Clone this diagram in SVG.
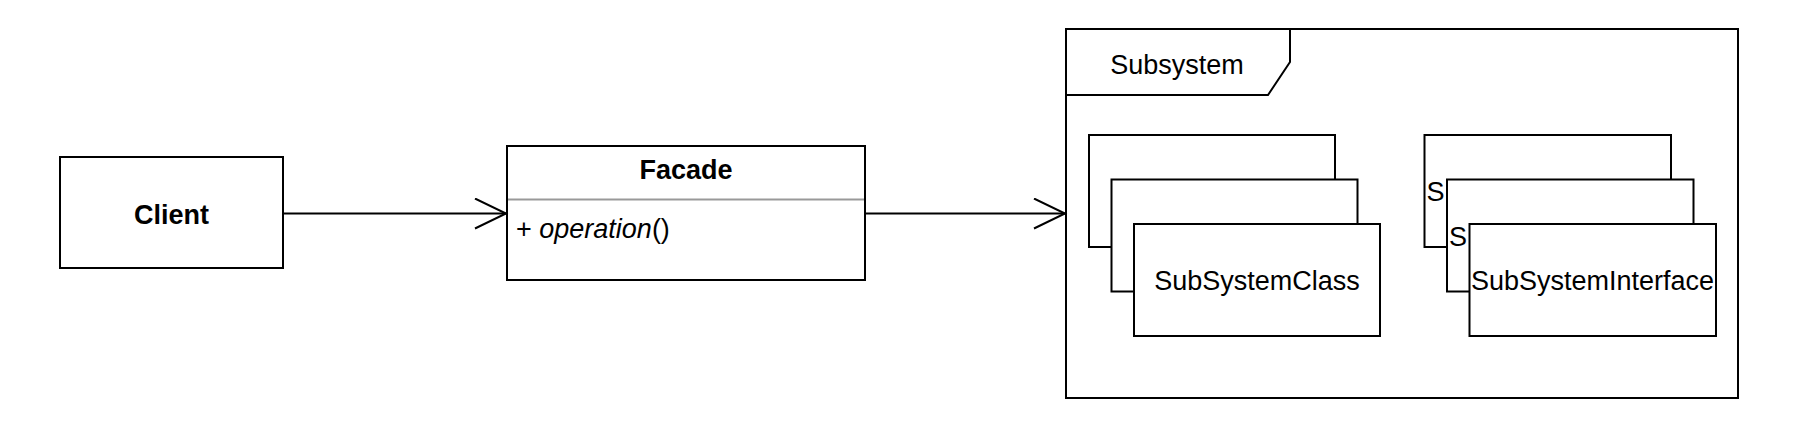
<svg xmlns="http://www.w3.org/2000/svg" width="1810" height="437" viewBox="0 0 1810 437">
  <defs>
    <style>
      .box { fill: #ffffff; stroke: #000000; stroke-width: 2; }
      .txt { font-family: "Liberation Sans", Arial, Helvetica, sans-serif; font-size: 27px; fill: #000000; }
      .bold { font-weight: bold; }
      .conn { fill: none; stroke: #000000; stroke-width: 2; }
    </style>
    <marker id="openArrow" markerUnits="userSpaceOnUse" markerWidth="40" markerHeight="40" refX="32" refY="16" orient="auto">
      <path d="M1,1 L32,16 L1,31" fill="none" stroke="#000000" stroke-width="2"/>
    </marker>
  </defs>
  <rect width="1810" height="437" fill="#ffffff"/>

  <g id="client">
    <rect class="box" x="60" y="157" width="223" height="111"/>
    <text class="txt bold" x="171.5" y="223.5" text-anchor="middle">Client</text>
  </g>

  <g id="facade">
    <rect class="box" x="507" y="146" width="358" height="134"/>
    <line x1="508" y1="199.5" x2="864" y2="199.5" stroke="#999999" stroke-width="2"/>
    <text class="txt bold" x="686" y="179" text-anchor="middle">Facade</text>
    <text class="txt" x="516" y="238">+ <tspan font-style="italic">operation</tspan>()</text>
  </g>

  <g id="subsystem">
    <rect class="box" x="1066" y="29" width="672" height="369"/>
    <path class="conn" d="M1066,95 L1268,95 L1290,62 L1290,29"/>
    <text class="txt" x="1177" y="74" text-anchor="middle">Subsystem</text>
  </g>

  <g id="subsystemclass">
    <rect class="box" x="1089" y="135" width="246" height="112"/>
    <rect class="box" x="1111.5" y="179.5" width="246" height="112"/>
    <rect class="box" x="1134" y="224" width="246" height="112"/>
    <text class="txt" x="1257" y="290" text-anchor="middle">SubSystemClass</text>
  </g>

  <g id="subsysteminterface">
    <rect class="box" x="1424.5" y="135" width="246.5" height="112"/>
    <text class="txt" x="1426.5" y="201">S</text>
    <rect class="box" x="1447" y="179.5" width="246.5" height="112"/>
    <text class="txt" x="1449" y="245.5">S</text>
    <rect class="box" x="1469.5" y="224" width="246.5" height="112"/>
    <text class="txt" x="1592.5" y="290" text-anchor="middle">SubSystemInterface</text>
  </g>

  <g id="connectors">
    <line class="conn" x1="283" y1="213.5" x2="506" y2="213.5" marker-end="url(#openArrow)"/>
    <line class="conn" x1="865" y1="213.5" x2="1065" y2="213.5" marker-end="url(#openArrow)"/>
  </g>
</svg>
